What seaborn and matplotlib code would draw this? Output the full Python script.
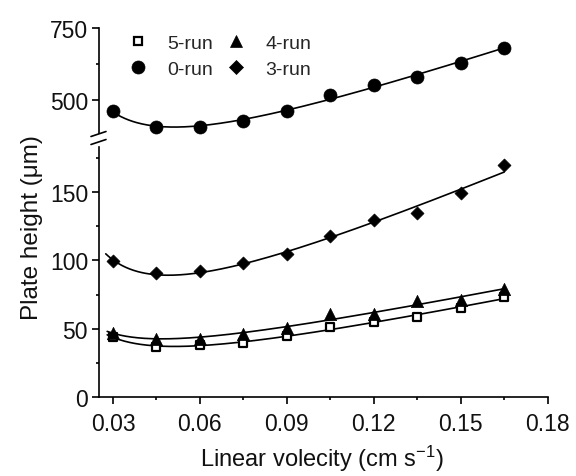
import numpy as np
import pandas as pd
import seaborn as sns
import matplotlib.pyplot as plt
from matplotlib.lines import Line2D
from matplotlib.ticker import MultipleLocator, FormatStrFormatter

sns.set_theme(style="ticks")
plt.rcParams['font.family'] = ['Liberation Sans', 'DejaVu Sans']
plt.rcParams['mathtext.default'] = 'regular'

# Linear velocity (cm/s) and plate heights (um) for each run
velocity = [0.03, 0.045, 0.06, 0.075, 0.09, 0.105, 0.12, 0.135, 0.15, 0.165]
h_5run = [44, 36.5, 38, 39.5, 44.7, 51.5, 54.7, 58.8, 65, 73]
h_4run = [47, 42.7, 42.7, 46, 50.7, 60.5, 60.7, 70, 71, 79]
h_3run = [99.3, 91, 92, 98, 104.7, 117.6, 129.8, 135, 149, 169.8]
h_0run = [461, 405, 407, 426, 463, 518, 552, 581, 630, 680]

series_names = ["5-run", "4-run", "3-run", "0-run"]
x_ticks = [0.03, 0.06, 0.09, 0.12, 0.15, 0.18]

df = pd.DataFrame({
    "u": velocity * 4,
    "H": h_5run + h_4run + h_3run + h_0run,
    "run": np.repeat(series_names, len(velocity)),
})

styles = {
    "5-run": dict(marker="s", s=28, facecolor="white", edgecolor="black", linewidth=1.6),
    "4-run": dict(marker="^", s=78, facecolor="black", edgecolor="black", linewidth=0.5),
    "3-run": dict(marker="D", s=44, facecolor="black", edgecolor="black", linewidth=0.5),
    "0-run": dict(marker="o", s=88, facecolor="black", edgecolor="black", linewidth=0.5),
}
fit_start = {"5-run": 0.028, "4-run": 0.028, "3-run": 0.0275, "0-run": 0.03}


def van_deemter_fit(u, h, u_from, u_to):
    """Least-squares fit of H = A + B/u + C*u, evaluated on a fine grid."""
    u = np.asarray(u, float)
    h = np.asarray(h, float)
    design = np.column_stack([np.ones_like(u), 1.0 / u, u])
    coef, *_ = np.linalg.lstsq(design, h, rcond=None)
    grid = np.linspace(u_from, u_to, 300)
    return grid, coef[0] + coef[1] / grid + coef[2] * grid


W, H = 576, 477
fig = plt.figure(figsize=(W / 100, H / 100), dpi=100)
left, right = 98.5 / W, 547.7 / W
ax_lo = fig.add_axes([left, 79 / H, right - left, (398 - 148) / H])
ax_hi = fig.add_axes([left, (H - 134) / H, right - left, (134 - 29) / H], sharex=ax_lo)

for ax, runs in ((ax_lo, ["5-run", "4-run", "3-run"]), (ax_hi, ["0-run"])):
    for name in runs:
        sub = df[df["run"] == name]
        gx, gy = van_deemter_fit(sub["u"], sub["H"], fit_start[name], 0.165)
        sns.lineplot(x=gx, y=gy, ax=ax, color="black", linewidth=1.2, zorder=2)
        sns.scatterplot(data=sub, x="u", y="H", ax=ax, zorder=3, clip_on=False,
                        legend=False, **styles[name])
    if ax.get_legend() is not None:
        ax.get_legend().remove()

# axes limits and ticks
ax_lo.set_xlim(0.025, 0.18)
ax_lo.set_ylim(0, 183)
ax_hi.set_ylim(385, 750)
ax_lo.set_xticks(x_ticks)
ax_lo.xaxis.set_major_formatter(FormatStrFormatter("%.2f"))
ax_lo.xaxis.set_minor_locator(MultipleLocator(0.015))
ax_lo.yaxis.set_major_locator(MultipleLocator(50))
ax_lo.yaxis.set_minor_locator(MultipleLocator(25))
ax_hi.yaxis.set_major_locator(MultipleLocator(250))
ax_hi.yaxis.set_minor_locator(MultipleLocator(125))

for ax in (ax_lo, ax_hi):
    ax.set_xlabel("")
    ax.set_ylabel("")
    ax.set_facecolor("white")
    for side in ("top", "right"):
        ax.spines[side].set_visible(False)
    for side in ("left", "bottom"):
        ax.spines[side].set_linewidth(1.2)
        ax.spines[side].set_color("black")
    ax.tick_params(axis="both", which="major", direction="out", length=5, width=1.2,
                   color="black", labelsize=16.5, pad=2.5, labelcolor="#111111")
    ax.tick_params(axis="both", which="minor", direction="out", length=2.5, width=1.2,
                   color="black")

ax_hi.spines["bottom"].set_visible(False)
ax_hi.tick_params(axis="x", which="both", bottom=False, labelbottom=False)
ax_lo.tick_params(axis="x", which="major", pad=6)

# axis break marks on the left spine
for yb in (137.5, 145.5):
    fig.add_artist(Line2D([91 / W, 106 / W], [(H - yb) / H, (H - yb + 5) / H],
                          transform=fig.transFigure, color="black", linewidth=1.2))

# labels
fig.text(322 / W, (H - 459) / H, "Linear volecity (cm s$^{-1}$)", ha="center",
         va="center", fontsize=17, color="#111111")
fig.text(32 / W, (H - 228) / H, "Plate height (\u03bcm)", ha="center", va="center",
         rotation=90, fontsize=17.5, color="#111111")

# legend: two columns (5-run / 0-run, 4-run / 3-run)
handles = []
for name in ["5-run", "0-run", "4-run", "3-run"]:
    st = styles[name]
    handles.append(Line2D([], [], linestyle="none", marker=st["marker"],
                          markersize=np.sqrt(st["s"]), markerfacecolor=st["facecolor"],
                          markeredgecolor=st["edgecolor"],
                          markeredgewidth=st["linewidth"], label=name))
fig.legend(handles=handles, ncol=2, frameon=False, fontsize=14,
           loc="upper left", bbox_to_anchor=(128 / W, (H - 35) / H),
           borderaxespad=0, borderpad=0, handlelength=1.0, handletextpad=1.0,
           columnspacing=0.7, labelspacing=0.45)

fig.savefig("out.png", dpi=100, facecolor="white")
